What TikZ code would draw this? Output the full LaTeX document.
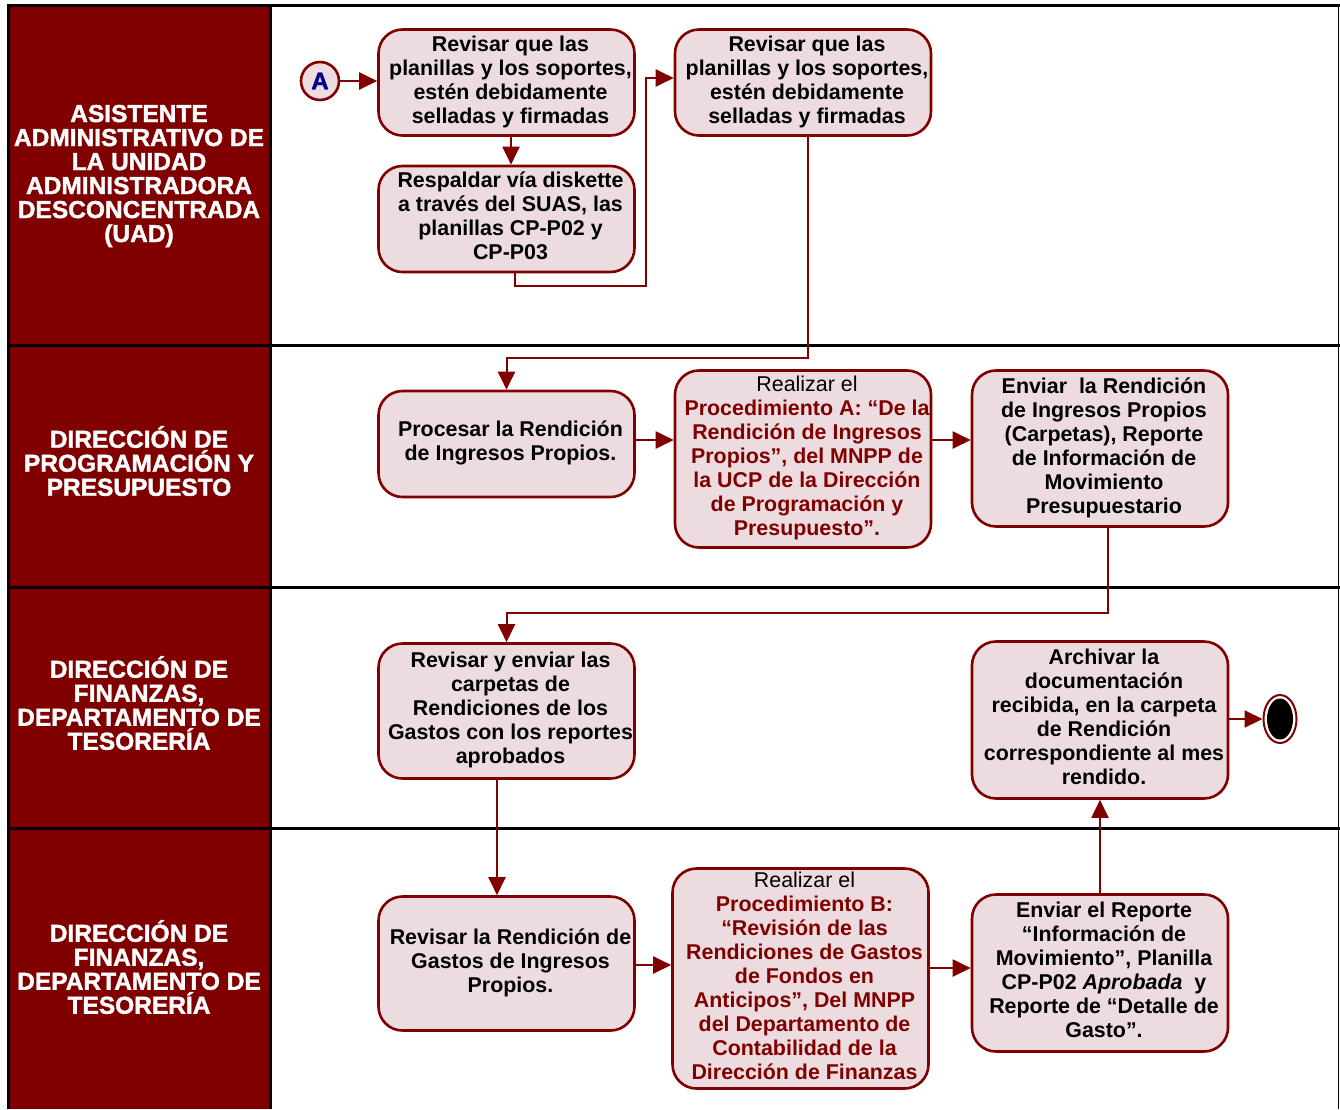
\documentclass[tikz,border=0pt]{standalone}
\usepackage{fontspec}
\setmainfont{Liberation Sans}
\newfontfamily\lanefont[BoldFeatures={FakeBold=1.6}]{Liberation Sans}
\usetikzlibrary{arrows.meta,shapes.geometric}
\definecolor{dred}{RGB}{128,0,0}
\definecolor{boxfill}{RGB}{236,220,224}
\definecolor{navyA}{RGB}{0,0,140}
\newcommand\boxtxt[1]{\hspace*{8pt}\begin{tabular}{@{}c@{}}#1\end{tabular}}
\begin{document}
\begin{tikzpicture}[x=1pt,y=-1pt,
  box/.style={draw=dred, line width=2.6pt, fill=boxfill, rounded corners=24pt,
    minimum width=256pt, inner sep=1pt,
    font=\bfseries\fontsize{21.4pt}{24pt}\selectfont},
  conn/.style={draw=dred, line width=2pt, -{Triangle[length=18pt,width=17pt]}},
  lanelabel/.style={text=white, align=center, font=\lanefont\bfseries\fontsize{24.5pt}{24pt}\selectfont},
  laneline/.style={draw=black, line width=3pt}]
\useasboundingbox (0,0) rectangle (1340,1109);
\fill[white] (0,0) rectangle (1340,1109);
% lanes
\fill[dred] (8,5) rectangle (270,1109);
\draw[laneline] (8,1109) -- (8,5) -- (1340,5);
\draw[laneline] (270,5) -- (270,1109);
\draw[laneline] (8,345) -- (1340,345);
\draw[laneline] (8,587) -- (1340,587);
\draw[laneline] (8,828) -- (1340,828);
\draw[draw=black, line width=1.5pt] (1338.5,5) -- (1338.5,1109);
\node[lanelabel] (L1) at (139,176) {ASISTENTE\\ADMINISTRATIVO DE\\LA UNIDAD\\ADMINISTRADORA\\DESCONCENTRADA\\(UAD)};
\node[lanelabel] (L2) at (139,461) {DIRECCIÓN DE\\PROGRAMACIÓN Y\\PRESUPUESTO};
\node[lanelabel] (L3) at (139,703) {DIRECCIÓN DE\\FINANZAS,\\DEPARTAMENTO DE\\TESORERÍA};
\node[lanelabel] (L4) at (139,967) {DIRECCIÓN DE\\FINANZAS,\\DEPARTAMENTO DE\\TESORERÍA};
% start / end
\node[circle, draw=dred, line width=2.6pt, fill=boxfill, minimum size=38pt, inner sep=0pt,
  text=navyA, font=\lanefont\bfseries\fontsize{24pt}{24pt}\selectfont] (A) at (320,81) {A};
\node[ellipse, draw=dred, line width=2pt, fill=white, minimum width=33pt, minimum height=48pt, inner sep=0pt] (E) at (1280,719) {};
\fill[black] (E.center) ellipse (13pt and 20.5pt);
% boxes
\node[box, minimum height=106pt] (B1) at (506.5,82.5) {\boxtxt{Revisar que las\\planillas y los soportes,\\estén debidamente\\selladas y firmadas}};
\node[box, minimum height=106pt] (B2) at (506.5,219) {\boxtxt{Respaldar vía diskette\\a través del SUAS, las\\planillas CP-P02 y\\CP-P03}};
\node[box, minimum height=106pt] (B3) at (803,82.5) {\boxtxt{Revisar que las\\planillas y los soportes,\\estén debidamente\\selladas y firmadas}};
\node[box, minimum height=106pt] (B4) at (506.5,444) {\boxtxt{Procesar la Rendición\\de Ingresos Propios.}};
\node[box, minimum height=177pt, text=dred] (B5) at (803,459) {\boxtxt{\mdseries\textcolor{black}{Realizar el}\\Procedimiento A: “De la\\Rendición de Ingresos\\Propios”, del MNPP de\\la UCP de la Dirección\\de Programación y\\Presupuesto”.}};
\node[box, minimum height=156pt] (B6) at (1100,448.5) {\boxtxt{Enviar \ la Rendición\\de Ingresos Propios\\(Carpetas), Reporte\\de Información de\\Movimiento\\Presupuestario}};
\node[box, minimum height=135pt] (B7) at (506.5,711) {\boxtxt{Revisar y enviar las\\carpetas de\\Rendiciones de los\\Gastos con los reportes\\aprobados}};
\node[box, minimum height=157pt] (B8) at (1100,720) {\boxtxt{Archivar la\\documentación\\recibida, en la carpeta\\de Rendición\\correspondiente al mes\\rendido.}};
\node[box, minimum height=134pt] (B9) at (506.5,963.5) {\boxtxt{Revisar la Rendición de\\Gastos de Ingresos\\Propios.}};
\node[box, minimum height=220pt, text=dred] (B10) at (800.5,978.5) {\boxtxt{\mdseries\textcolor{black}{Realizar el}\\Procedimiento B:\\“Revisión de las\\Rendiciones de Gastos\\de Fondos en\\Anticipos”, Del MNPP\\del Departamento de\\Contabilidad de la\\Dirección de Finanzas}};
\node[box, minimum height=157pt] (B11) at (1100,973) {\boxtxt{Enviar el Reporte\\“Información de\\Movimiento”, Planilla\\CP-P02 \textit{Aprobada}\ \ y\\Reporte de “Detalle de\\Gasto”.}};
% bend points
\coordinate (k1) at (646,286);
\coordinate (k2) at (506.5,358);
\coordinate (k3) at (506.5,613);
% connectors
\draw[conn] (A.east) -- ([yshift=1.5pt]B1.west);
\draw[conn] ([xshift=4.5pt]B1.south) -- ([xshift=4.5pt]B2.north);
\draw[conn] ([xshift=8.5pt]B2.south) |- (k1) |- ([yshift=4.5pt]B3.west);
\draw[conn] ([xshift=5pt]B3.south) |- (k2) -- (B4.north);
\draw[conn] ([yshift=4pt]B4.east) -- ([yshift=19pt]B5.west);
\draw[conn] ([yshift=19pt]B5.east) -- ([yshift=8.5pt]B6.west);
\draw[conn] ([xshift=8pt]B6.south) |- (k3) -- (B7.north);
\draw[conn] ([xshift=-9.5pt]B7.south) -- ([xshift=-9.5pt]B9.north);
\draw[conn] ([yshift=-1.5pt]B9.east) -- ([yshift=13.5pt]B10.west);
\draw[conn] ([yshift=10.5pt]B10.east) -- ([yshift=5pt]B11.west);
\draw[conn] (B11.north) -- (B8.south);
\draw[conn] ([yshift=1pt]B8.east) -- (E.west);
\end{tikzpicture}
\end{document}
